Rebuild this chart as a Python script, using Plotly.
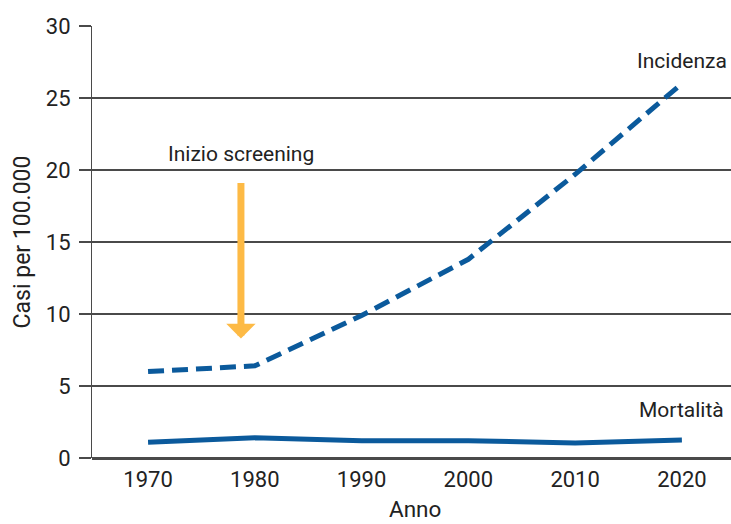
import plotly.graph_objects as go

# Andamento di incidenza e mortalità
anni = [1970, 1980, 1990, 2000, 2010, 2020]
incidenza = [6.0, 6.4, 9.9, 13.8, 19.7, 26.0]
mortalita = [1.1, 1.4, 1.2, 1.2, 1.05, 1.25]

y_ticks = [0, 5, 10, 15, 20, 25, 30]
anno_screening = 1978.7

BLU = "#0b5a9c"
ARANCIO = "#fdba45"
GRIGIO = "#4a4a4a"
FONT = "Roboto, Arial, sans-serif"

fig = go.Figure()
fig.add_trace(go.Scatter(x=anni, y=incidenza, mode="lines", name="Incidenza",
                         line=dict(color=BLU, width=5, dash="16px,8px")))
fig.add_trace(go.Scatter(x=anni, y=mortalita, mode="lines", name="Mortalità",
                         line=dict(color=BLU, width=5)))

# Etichette delle serie
fig.add_annotation(x=2020, y=27.6, text="Incidenza", showarrow=False,
                   font=dict(size=21, color="#222"))
fig.add_annotation(x=2020, y=3.3, text="Mortalità", showarrow=False,
                   font=dict(size=21, color="#222"))

# Freccia di inizio screening
fig.add_annotation(x=anno_screening, y=8.3, ax=anno_screening, ay=19.2,
                   xref="x", yref="y", axref="x", ayref="y",
                   showarrow=True, arrowhead=1, arrowsize=0.7, arrowwidth=7,
                   arrowcolor=ARANCIO, text="")
fig.add_annotation(x=anno_screening, y=21.1, text="Inizio screening", showarrow=False,
                   font=dict(size=21, color="#222"))

# Titolo dell'asse orizzontale
fig.add_annotation(x=0.505, y=-0.117, xref="paper", yref="paper", yanchor="middle",
                   text="Anno", showarrow=False, borderpad=0,
                   font=dict(size=22.5, color="#222"))

fig.update_layout(
    width=731, height=524,
    margin=dict(l=92, r=0, t=26, b=66),
    plot_bgcolor="white", paper_bgcolor="white",
    font=dict(family=FONT, size=22, color="#222"),
    showlegend=False,
    xaxis=dict(range=[1964.75, 2024.6], tickvals=anni, showgrid=False,
               zeroline=False, showline=False, ticks="", ticklabelstandoff=6,
               automargin=False, tickfont=dict(size=22)),
    yaxis=dict(range=[0, 30], tickvals=y_ticks, showgrid=True,
               gridcolor=GRIGIO, gridwidth=1.5, zeroline=True,
               zerolinecolor=GRIGIO, zerolinewidth=2.5,
               showline=True, linecolor=GRIGIO, linewidth=1.2,
               ticks="outside", ticklen=12, tickcolor=GRIGIO, tickwidth=1.5,
               ticklabelstandoff=4, automargin=False,
               title=dict(text="Casi per 100.000", font=dict(size=23), standoff=8),
               tickfont=dict(size=22)),
)

fig.write_html("out.html")
